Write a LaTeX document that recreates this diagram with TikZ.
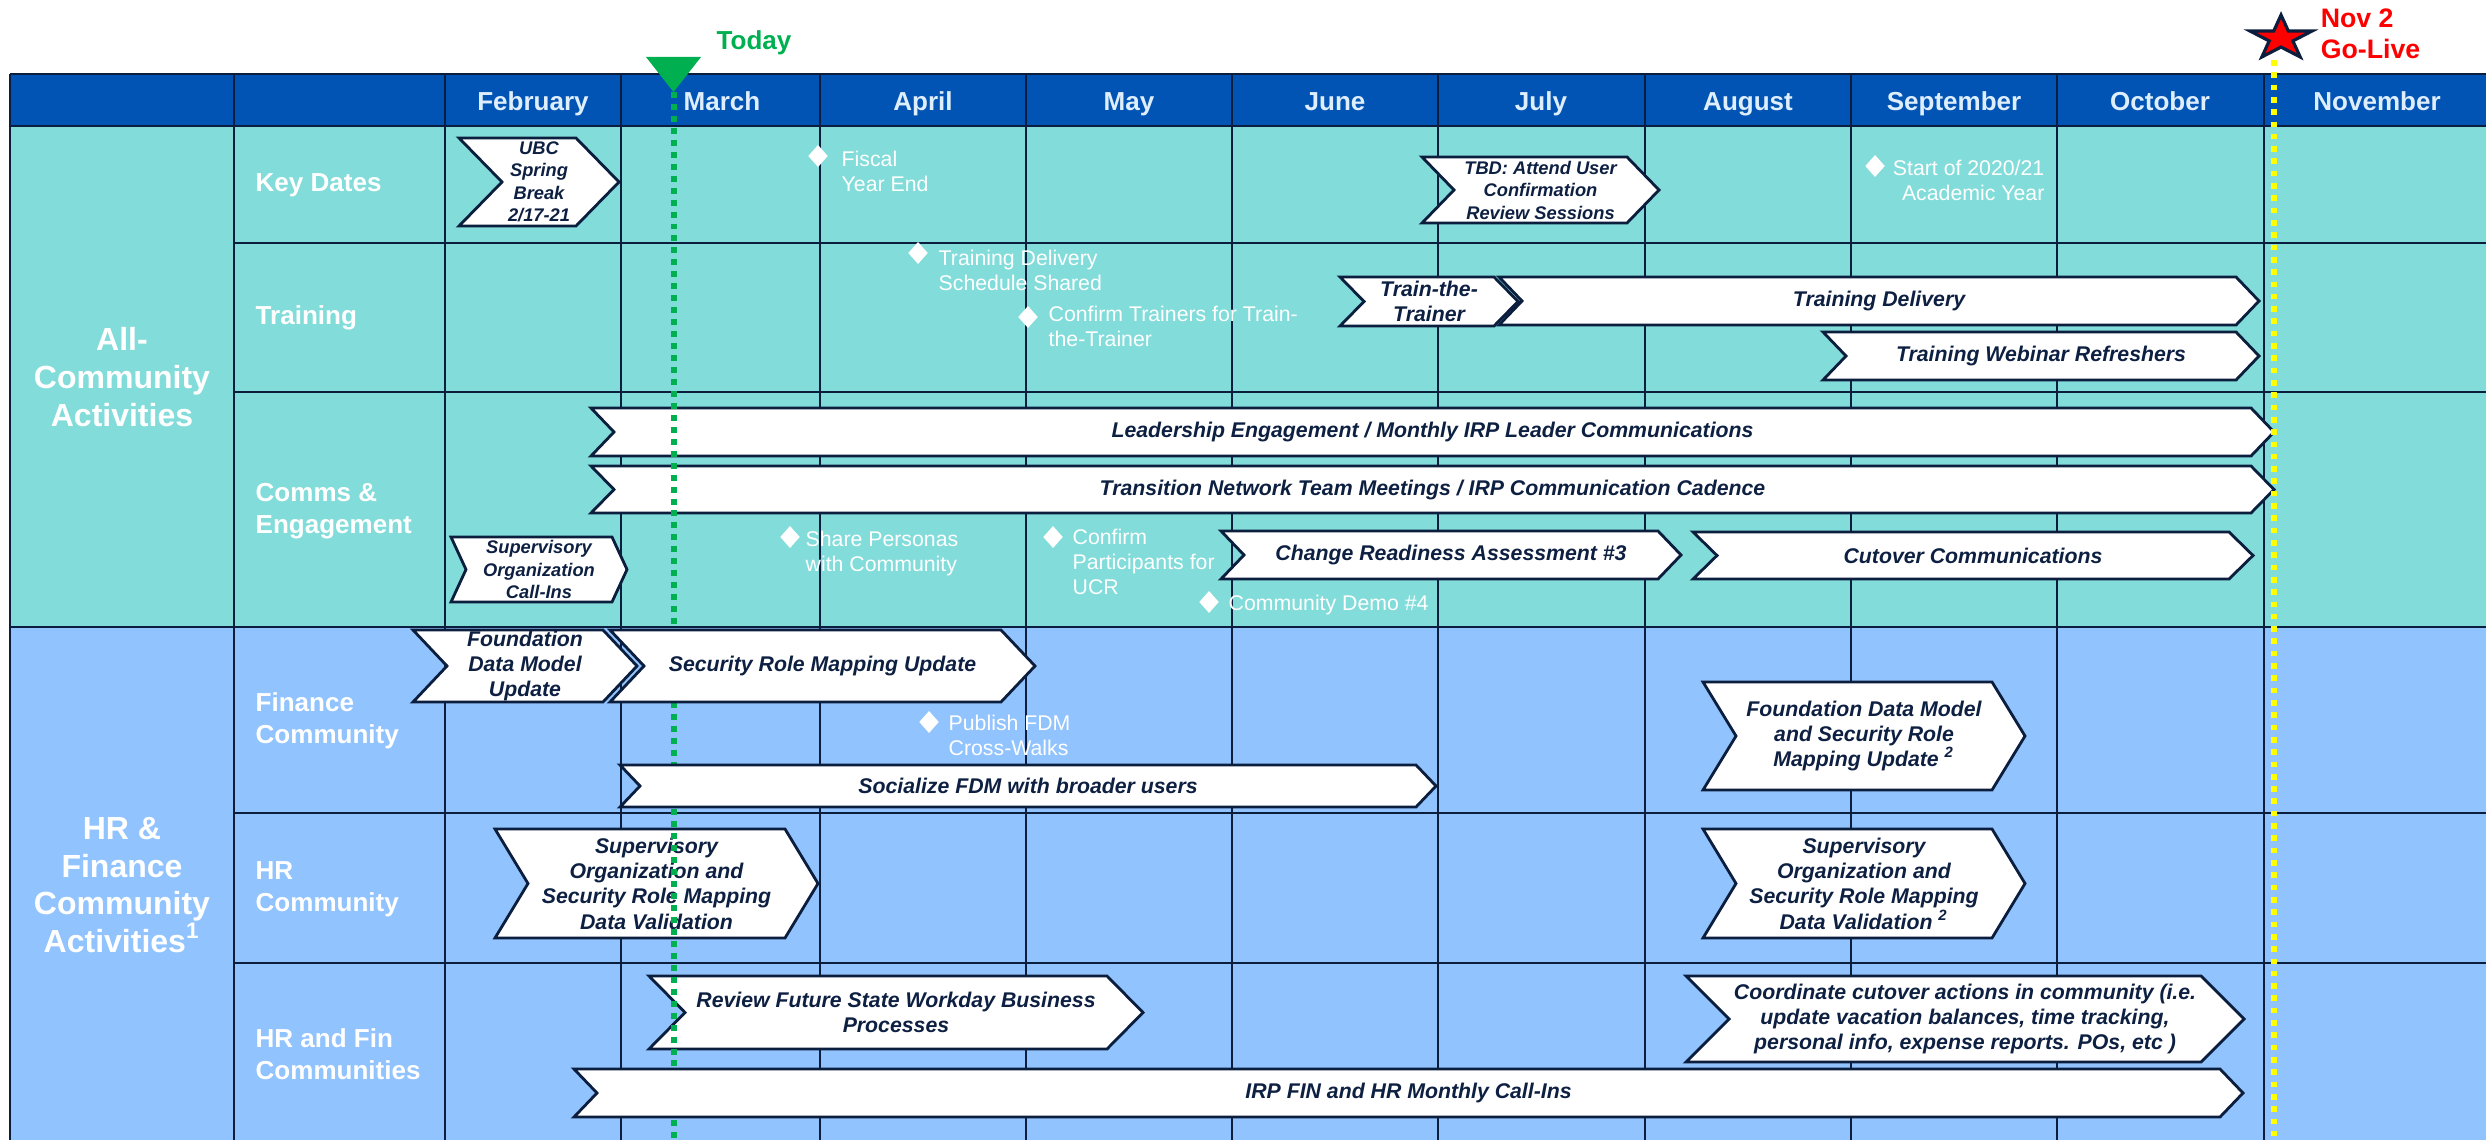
\documentclass[tikz,border=0pt]{standalone}
\usepackage{fontspec}
\setmainfont{Liberation Sans}
\usetikzlibrary{shapes.geometric}

\definecolor{rowteal}{RGB}{130,220,218}
\definecolor{rowblue}{RGB}{145,195,254}
\definecolor{hdrblue}{RGB}{1,84,180}
\definecolor{gridnavy}{RGB}{12,30,62}
\definecolor{chevnavy}{RGB}{14,32,66}
\definecolor{todaygreen}{RGB}{0,176,80}
\definecolor{hdrtext}{RGB}{222,238,252}
\definecolor{goyellow}{RGB}{255,255,0}
\definecolor{gored}{RGB}{255,0,0}

\tikzset{
  gridline/.style={draw=gridnavy, line width=0.7pt},
  chev/.style={fill=white, draw=gridnavy, line width=0.8pt, line join=miter},
  chevtext/.style={text=chevnavy, font=\fontsize{6.05}{7.2}\selectfont\bfseries\itshape, align=center, inner sep=0pt},
  chevsmall/.style={chevtext, font=\fontsize{5.2}{6.4}\selectfont\bfseries\itshape},
  msdiamond/.style={diamond, fill=white, draw=none, minimum width=0.2cm, minimum height=0.225cm, inner sep=0pt},
  mstext/.style={text=white, font=\fontsize{6.05}{7.2}\selectfont, align=left, inner sep=0pt},
  monthlabel/.style={text=hdrtext, font=\fontsize{7.4}{9}\selectfont\bfseries, inner sep=0pt, anchor=base},
  sublabel/.style={text=white, font=\fontsize{7.4}{9.1}\selectfont\bfseries, align=left, anchor=west, inner sep=0pt},
  catlabel/.style={text=white, font=\fontsize{9.1}{10.7}\selectfont\bfseries, align=center, inner sep=0pt},
  todayline/.style={draw=todaygreen, line width=1.5pt, dash pattern=on 1.7pt off 1.7pt},
  todaytext/.style={text=todaygreen, font=\fontsize{7.4}{9}\selectfont\bfseries, inner sep=0pt},
  goliveline/.style={draw=goyellow, line width=1.56pt, dash pattern=on 1.6pt off 1.9pt},
  golivetext/.style={text=gored, font=\fontsize{7.6}{8.8}\selectfont\bfseries, align=left, inner sep=0pt},
  gostar/.style={fill=gored, draw=gridnavy, line width=0.9pt, line join=miter},
}

% chevron bar: [text style]{name}{left}{right}{top}{bottom}{point depth}{text}
\newcommand{\chevbox}[8][chevtext]{%
  \path[chev] (#3,#5) -- ({#4-#7},#5) -- (#4,{(#5+#6)/2}) -- ({#4-#7},#6)
    -- (#3,#6) -- ({#3+#7},{(#5+#6)/2}) -- cycle;
  \node[#1] (#2) at ({(#3+#4)/2},{(#5+#6)/2}) {#8};}

% milestone: {name}{diamond x}{diamond y}{text x}{first line y}{text}
\newcommand{\mstone}[6]{%
  \node[msdiamond] (#1-d) at (#2,#3) {};
  \node[mstext, anchor=north west] (#1) at (#4,{#5-8}) {#6};}

\begin{document}
\begin{tikzpicture}[x=0.01cm, y=-0.01cm]
\useasboundingbox (0,0) rectangle (2486,1140);

% row bands and header
\fill[rowteal] (10,126) rectangle (2486,627);
\fill[rowblue] (10,627) rectangle (2486,1140);
\fill[hdrblue] (10,74) rectangle (2486,126);

% table rules
\foreach \x in {10,234,445,621,820,1026,1232,1438,1645,1851,2057,2264}
  \draw[gridline] (\x,74) -- (\x,1140);
\foreach \y in {74,126,627}
  \draw[gridline] (10,\y) -- (2486,\y);
\foreach \y in {243,392,813,963}
  \draw[gridline] (234,\y) -- (2486,\y);

% month headings
\foreach \m/\x in {February/533,March/722,April/923,May/1129,June/1335,
                   July/1541,August/1748,September/1954,October/2160,November/2377}
  \node[monthlabel] (m-\m) at (\x,111) {\m};

% group and stream labels
\node[catlabel] (cat-all) at (122,377) {All-\\Community\\Activities};
\node[catlabel] (cat-hrfin) at (122,885) {HR \&\\Finance\\Community\\Activities\textsuperscript{1}};

\node[sublabel] (s-key) at (255,185) {Key Dates};
\node[sublabel] (s-train) at (255,318) {Training};
\node[sublabel] (s-comms) at (255,511) {Comms \&\\Engagement};
\node[sublabel] (s-fin) at (255,721) {Finance\\Community};
\node[sublabel] (s-hr) at (255,889) {HR\\Community};
\node[sublabel] (s-both) at (255,1054) {HR and Fin\\Communities};

% milestones
\mstone{ms-fye}{818}{156}{841}{158}{Fiscal\\Year End}
\node[msdiamond] (ms-ay-d) at (1875,166) {};
\node[mstext, align=right, anchor=north east] (ms-ay) at (2045,159) {Start of 2020/21\\Academic Year};
\mstone{ms-tds}{918}{253}{938}{257}{Training Delivery\\Schedule Shared}
\mstone{ms-ctt}{1028}{317}{1048}{313}{Confirm Trainers for Train-\\the-Trainer}
\mstone{ms-sp}{790}{537}{805}{538}{Share Personas\\with Community}
\mstone{ms-cp}{1053}{537}{1072}{536}{Confirm\\Participants for\\UCR}
\mstone{ms-cd}{1209}{602}{1228}{602}{Community Demo \#4}
\mstone{ms-pub}{929}{722}{948}{722}{Publish FDM\\Cross-Walks}

% activity bars lying under the Today marker
\chevbox[chevsmall]{c-ubc}{459}{619}{138}{226}{43}{UBC\\Spring\\Break\\2/17-21}
\chevbox[chevsmall]{c-tbd}{1422}{1659}{157}{223}{32}{TBD: Attend User\\Confirmation\\Review Sessions}
\chevbox{c-ttt}{1340}{1518}{277}{326}{24}{Train-the-\\Trainer}
\chevbox{c-tdel}{1499}{2259}{277}{325}{23}{Training Delivery}
\chevbox{c-web}{1823}{2259}{332}{380}{23}{Training Webinar Refreshers}
\chevbox{c-lead}{591}{2274}{408}{456}{23}{Leadership Engagement / Monthly IRP Leader Communications}
\chevbox{c-tnt}{591}{2274}{466}{513}{23}{Transition Network Team Meetings / IRP Communication Cadence}
\chevbox[chevsmall]{c-soci}{451}{627}{537}{602}{15}{Supervisory\\Organization\\Call-Ins}
\chevbox{c-cra}{1221}{1681}{531}{579}{23}{Change Readiness Assessment \#3}
\chevbox{c-cut}{1693}{2253}{532}{579}{24}{Cutover Communications}
\chevbox{c-fdm}{413}{637}{630}{702}{34}{Foundation\\Data Model\\Update}
\chevbox{c-fdm2}{1703}{2025}{682}{790}{33}{Foundation Data Model\\and Security Role\\Mapping Update \textsuperscript{2}}
\chevbox{c-sohr}{495}{818}{829}{938}{33}{Supervisory\\Organization and\\Security Role Mapping\\Data Validation}
\chevbox{c-sohr2}{1703}{2025}{829}{938}{33}{Supervisory\\Organization and\\Security Role Mapping\\Data Validation \textsuperscript{2}}
\chevbox{c-rev}{649}{1143}{976}{1049}{36}{Review Future State Workday Business\\Processes}
\chevbox{c-coord}{1686}{2244}{976}{1062}{43}{Coordinate cutover actions in community (i.e.\\update vacation balances, time tracking,\\personal info, expense reports. POs, etc )}

% Today marker
\coordinate (today-top) at (674,92);
\coordinate (today-end) at (674,1140);
\draw[todayline] (today-top) -- (today-end);
\fill[todaygreen] (646,57) -- (701,57) -- (673.5,92) -- cycle;
\node[todaytext] (today) at (754,43) {Today};

% activity bars lying over the Today marker
\chevbox{c-srm}{610}{1035}{630}{702}{34}{Security Role Mapping Update}
\chevbox{c-soc}{620}{1436}{765}{807}{20}{Socialize FDM with broader users}
\chevbox{c-irp}{574}{2243}{1069}{1117}{23}{IRP FIN and HR Monthly Call-Ins}

% go-live marker
\coordinate (golive-top) at (2274,60);
\coordinate (golive-end) at (2274,1140);
\draw[goliveline] (golive-top) -- (golive-end);
\begin{scope}[shift={(2281,38.2)}, xscale=32.6, yscale=-23.2]
  \path[gostar] (90:1) -- (126:0.382) -- (162:1) -- (198:0.382) -- (234:1)
    -- (270:0.382) -- (306:1) -- (342:0.382) -- (18:1) -- (54:0.382) -- cycle;
\end{scope}
\node[golivetext, anchor=north west] (golive) at (2320,8) {Nov 2\\Go-Live};
\end{tikzpicture}
\end{document}
